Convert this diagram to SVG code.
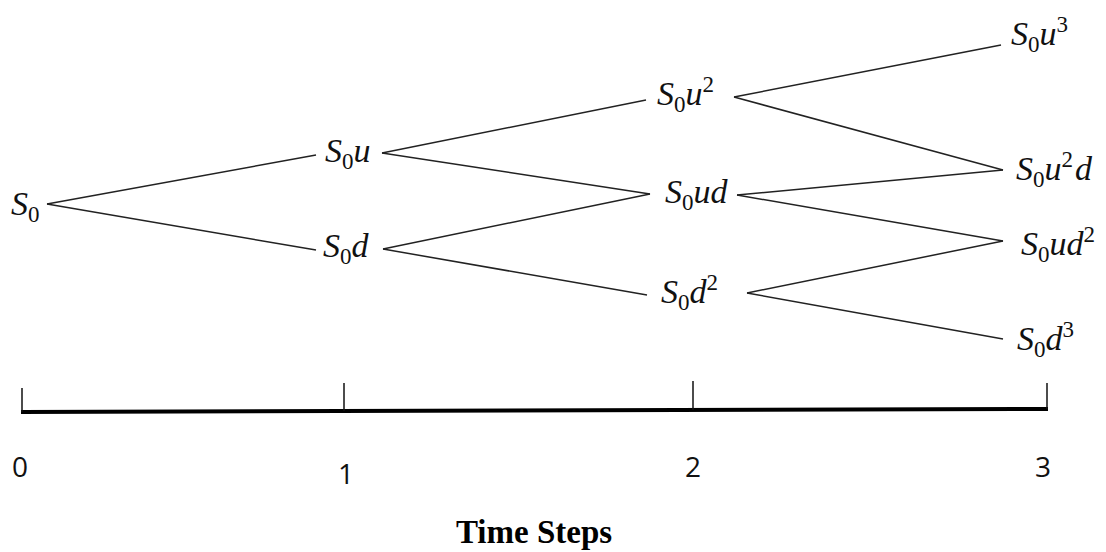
<svg xmlns="http://www.w3.org/2000/svg" width="1106" height="552" viewBox="0 0 1106 552">
  <style>
    .m { font-family: "Liberation Serif", "Times New Roman", serif; font-style: italic; font-size: 34px; fill: #111; }
    .s { font-style: normal; font-size: 23px; }
    .edge { stroke: #222; stroke-width: 1.5; fill: none; }
    .tick { stroke: #111; stroke-width: 1.5; }
    .axis { stroke: #000; stroke-width: 4; }
    .num { font-family: "Open Sans", "Liberation Sans", sans-serif; font-size: 28px; fill: #111; }
    .title { font-family: "Liberation Serif", "Times New Roman", serif; font-weight: bold; font-size: 33px; fill: #000; }
  </style>

  <!-- tree edges -->
  <g id="connectors">
    <line class="edge" x1="47" y1="204" x2="316" y2="155"/>
    <line class="edge" x1="47" y1="204" x2="316" y2="250"/>
    <line class="edge" x1="382" y1="153" x2="646" y2="100"/>
    <line class="edge" x1="382" y1="153" x2="650" y2="194"/>
    <line class="edge" x1="383" y1="249" x2="650" y2="194"/>
    <line class="edge" x1="383" y1="249" x2="647" y2="295"/>
    <line class="edge" x1="734" y1="97" x2="1001" y2="45"/>
    <line class="edge" x1="734" y1="97" x2="1003" y2="170"/>
    <line class="edge" x1="737" y1="195" x2="1003" y2="170"/>
    <line class="edge" x1="737" y1="195" x2="1003" y2="241"/>
    <line class="edge" x1="747" y1="293" x2="1003" y2="241"/>
    <line class="edge" x1="747" y1="293" x2="1003" y2="339"/>
  </g>

  <!-- step 0 -->
  <g id="n0">
    <text class="m" x="11" y="215">S<tspan class="s" dy="7">0</tspan></text>
  </g>
  <!-- step 1 -->
  <g id="n1u">
    <text class="m" x="325" y="162">S<tspan class="s" dy="7">0</tspan><tspan dy="-7">u</tspan></text>
  </g>
  <g id="n1d">
    <text class="m" x="323" y="257">S<tspan class="s" dy="7">0</tspan><tspan dy="-7">d</tspan></text>
  </g>
  <!-- step 2 -->
  <g id="n2uu">
    <text class="m" x="657" y="105">S<tspan class="s" dy="7">0</tspan><tspan dy="-7">u</tspan><tspan class="s" dy="-13">2</tspan></text>
  </g>
  <g id="n2ud">
    <text class="m" x="665" y="203">S<tspan class="s" dy="7">0</tspan><tspan dy="-7">ud</tspan></text>
  </g>
  <g id="n2dd">
    <text class="m" x="661" y="303">S<tspan class="s" dy="7">0</tspan><tspan dy="-7">d</tspan><tspan class="s" dy="-13">2</tspan></text>
  </g>
  <!-- step 3 -->
  <g id="n3uuu">
    <text class="m" x="1011" y="45">S<tspan class="s" dy="7">0</tspan><tspan dy="-7">u</tspan><tspan class="s" dy="-13">3</tspan></text>
  </g>
  <g id="n3uud">
    <text class="m" x="1016" y="180">S<tspan class="s" dy="7">0</tspan><tspan dy="-7">u</tspan><tspan class="s" dy="-13">2</tspan><tspan dx="2" dy="13">d</tspan></text>
  </g>
  <g id="n3udd">
    <text class="m" x="1021" y="255">S<tspan class="s" dy="7">0</tspan><tspan dy="-7">ud</tspan><tspan class="s" dy="-13">2</tspan></text>
  </g>
  <g id="n3ddd">
    <text class="m" x="1017" y="350">S<tspan class="s" dy="7">0</tspan><tspan dy="-7">d</tspan><tspan class="s" dy="-13">3</tspan></text>
  </g>

  <!-- time axis -->
  <g id="axis">
    <line class="axis" x1="21" y1="412" x2="1048" y2="409"/>
    <line class="tick" x1="22" y1="388" x2="22" y2="412"/>
    <line class="tick" x1="344" y1="383" x2="344" y2="411"/>
    <line class="tick" x1="693" y1="381" x2="693" y2="410"/>
    <line class="tick" x1="1047" y1="383" x2="1047" y2="409"/>
    <text class="num" x="12" y="477">0</text>
    <text class="num" x="338" y="484">1</text>
    <text class="num" x="685" y="477">2</text>
    <text class="num" x="1035" y="477">3</text>
    <text class="title" x="534" y="543" text-anchor="middle">Time Steps</text>
  </g>
</svg>
